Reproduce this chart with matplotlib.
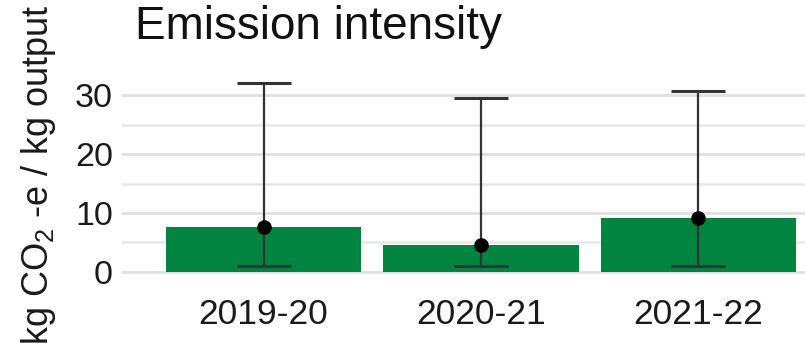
import matplotlib
matplotlib.use('Agg')
import matplotlib.pyplot as plt

plt.rcParams['font.family'] = ['Liberation Sans', 'DejaVu Sans']
plt.rcParams['mathtext.fontset'] = 'custom'
plt.rcParams['mathtext.rm'] = 'Liberation Sans'
plt.rcParams['mathtext.it'] = 'Liberation Sans:italic'

# Emission intensity per year, with low / high range
years = ['2019-20', '2020-21', '2021-22']
intensity = [7.6, 4.5, 9.2]
low = [1.0, 1.0, 1.0]
high = [32.2, 29.5, 30.8]

bar_color = '#00843f'
grid_color = '#e0e0e0'
text_color = '#1a1a1a'

fig = plt.figure(figsize=(8.05, 3.52), dpi=100)
ax = fig.add_axes([122 / 805, 1 - 281 / 352, (805 - 122) / 805, (281 - 72) / 352])

x = list(range(1, len(years) + 1))
ax.bar(x, intensity, width=0.9, color=bar_color, zorder=2)

err_lo = [v - l for v, l in zip(intensity, low)]
err_hi = [h - v for v, h in zip(intensity, high)]
ax.errorbar(x, intensity, yerr=[err_lo, err_hi], fmt='none', ecolor='#333333',
            elinewidth=1.6, capsize=19.5, capthick=2.2, zorder=3)
ax.scatter(x, intensity, s=90, color='black', zorder=4)

ax.set_xlim(0.349, 3.49)
ax.set_ylim(-1.6, 34)
ax.set_yticks([0, 10, 20, 30])
ax.set_yticks([5, 15, 25], minor=True)
ax.set_xticks(x)
ax.set_xticklabels(years)

ax.grid(axis='y', which='major', color=grid_color, linewidth=2.0, zorder=0)
ax.grid(axis='y', which='minor', color='#e8e8e8', linewidth=1.8, zorder=0)
ax.set_axisbelow(True)
for s in ax.spines.values():
    s.set_visible(False)

ax.tick_params(axis='both', which='both', length=0, colors=text_color)
ax.tick_params(axis='y', labelsize=24.5, pad=6.5)
ax.tick_params(axis='x', labelsize=25.5, pad=12)

fig.text(39 / 805, 1 - 175 / 352, 'kg CO$_2$ -e / kg output', fontsize=26,
         rotation=90, ha='center', va='center', color=text_color)

fig.text(135 / 805, 1 - 39 / 352, 'Emission intensity', fontsize=33,
         va='baseline', ha='left', color='#111111')

fig.savefig('out.png', dpi=100)
